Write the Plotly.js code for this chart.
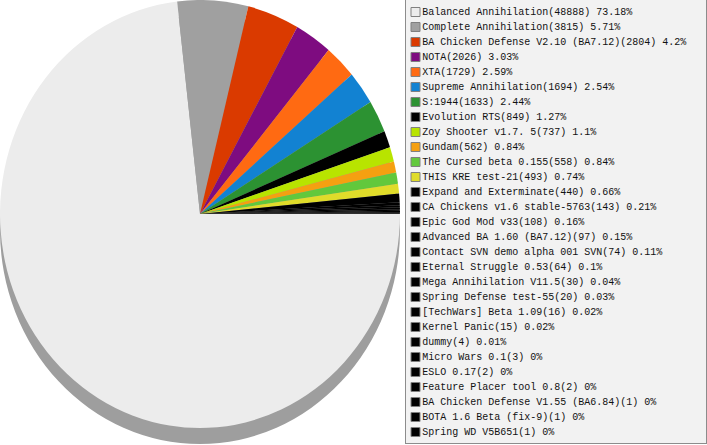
<!DOCTYPE html>
<html>
<head>
<meta charset="utf-8">
<script src="https://cdn.plot.ly/plotly-3.0.1.min.js"></script>
<style>
html,body{margin:0;padding:0;background:#fff;}
#chart{width:707px;height:445px;}
</style>
</head>
<body>
<div id="chart"></div>
<script>
// ---- data ----
const labels = [
  "Balanced Annihilation",
  "Complete Annihilation",
  "BA Chicken Defense V2.10 (BA7.12)",
  "NOTA",
  "XTA",
  "Supreme Annihilation",
  "S:1944",
  "Evolution RTS",
  "Zoy Shooter v1.7. 5",
  "Gundam",
  "The Cursed beta 0.155",
  "THIS KRE test-21",
  "Expand and Exterminate",
  "CA Chickens v1.6 stable-5763",
  "Epic God Mod v33",
  "Advanced BA 1.60 (BA7.12)",
  "Contact SVN demo alpha 001 SVN",
  "Eternal Struggle 0.53",
  "Mega Annihilation V11.5",
  "Spring Defense test-55",
  "[TechWars] Beta 1.09",
  "Kernel Panic",
  "dummy",
  "Micro Wars 0.1",
  "ESLO 0.17",
  "Feature Placer tool 0.8",
  "BA Chicken Defense V1.55 (BA6.84)",
  "BOTA 1.6 Beta (fix-9)",
  "Spring WD V5B651"
];
const counts = [48888, 3815, 2804, 2026, 1729, 1694, 1633, 849, 737, 562, 558, 493, 440,
  143, 108, 97, 74, 64, 30, 20, 16, 15, 4, 3, 2, 2, 1, 1, 1];
const percents = ["73.18", "5.71", "4.2", "3.03", "2.59", "2.54", "2.44", "1.27", "1.1",
  "0.84", "0.84", "0.74", "0.66", "0.21", "0.16", "0.15", "0.11", "0.1", "0.04", "0.03",
  "0.02", "0.02", "0.01", "0", "0", "0", "0", "0", "0"];

// ---- styles ----
const colors = ["#ececec", "#a0a0a0", "#da3a00", "#7e0c80", "#ff6a12", "#1282d2", "#2c9232",
  "#000000", "#b8e400", "#f5a011", "#62c83c", "#e0dc2a"];
while (colors.length < labels.length) colors.push("#000000");

const MONO = "Liberation Mono";
const W = 707, H = 445;
const legendText = labels.map((l, i) => l + "(" + counts[i] + ") " + percents[i] + "%");
const rowIndex = labels.map((_, i) => i);
const markerCol = labels.map(() => 0);

const shadow = {
  type: "pie",
  values: [1],
  labels: ["shadow"],
  marker: {colors: ["#9e9e9e"], line: {width: 0}},
  textinfo: "none",
  hoverinfo: "skip",
  sort: false,
  showlegend: false,
  domain: {x: [0, 400 / W], y: [16.05 / H, 416.05 / H]}
};

const pie = {
  type: "pie",
  values: counts,
  labels: labels,
  marker: {colors: colors, line: {width: 0}},
  textinfo: "none",
  hoverinfo: "skip",
  sort: false,
  direction: "clockwise",
  rotation: 90,
  showlegend: false,
  domain: {x: [0, 400 / W], y: [31 / H, 431 / H]}
};

const legendTrace = {
  type: "scatter",
  mode: "markers+text",
  x: markerCol,
  y: rowIndex,
  text: legendText,
  textposition: "middle right",
  textfont: {family: MONO, size: 10, color: "#111111"},
  marker: {symbol: "square", size: 9, color: colors, line: {color: "#808080", width: 1}},
  hoverinfo: "skip",
  showlegend: false,
  cliponaxis: false
};

const layout = {
  width: W, height: H,
  margin: {l: 0, r: 0, t: 0, b: 0, pad: 0},
  font: {family: MONO, size: 10, color: "#111111"},
  paper_bgcolor: "#ffffff",
  plot_bgcolor: "#f2f2f2",
  showlegend: false,
  xaxis: {
    domain: [406 / W, 706 / W],
    range: [-9.5, 290.5],
    showgrid: false, zeroline: false, showticklabels: false, ticks: "",
    showline: true, mirror: true, linecolor: "#8c8c8c", linewidth: 1,
    fixedrange: true
  },
  yaxis: {
    domain: [2 / H, 1],
    range: [(443 - 12) / 15, -0.8],
    showgrid: false, zeroline: false, showticklabels: false, ticks: "",
    showline: true, mirror: true, linecolor: "#8c8c8c", linewidth: 1,
    fixedrange: true
  }
};

Plotly.newPlot("chart", [shadow, pie, legendTrace], layout, {displayModeBar: false, staticPlot: true})
  .then(function () {
    // stretch the pie vertically into the slightly taller ellipse of the reference
    const pl = document.querySelector(".pielayer");
    if (pl) pl.setAttribute("transform", "translate(0,214) scale(1,1.07) translate(0,-214)");
  });
</script>
</body>
</html>
